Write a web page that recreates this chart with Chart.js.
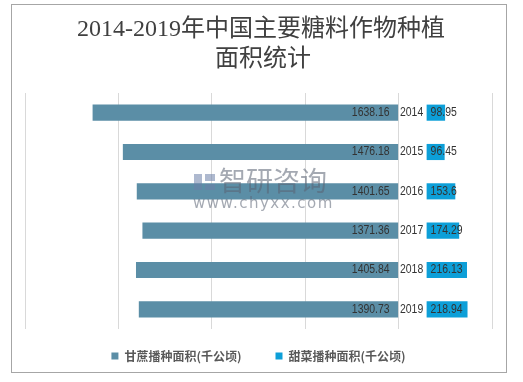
<!DOCTYPE html>
<html><head><meta charset="utf-8">
<script src="https://cdn.jsdelivr.net/npm/chart.js@4"></script>
<style>html,body{margin:0;padding:0;background:#fff}#wrap{width:523px;height:382px;position:relative}</style>
</head><body><div id="wrap"><canvas id="c" width="523" height="382"></canvas></div>
<script>
const years = ['2014','2015','2016','2017','2018','2019'];
const caneArea = [1638.16,1476.18,1401.65,1371.36,1405.84,1390.73];
const beetArea = [98.95,96.45,153.6,174.29,216.13,218.94];
const caneLabel = '甘蔗播种面积(千公顷)';
const beetLabel = '甜菜播种面积(千公顷)';
const titleLines = ['2014-2019年中国主要糖料作物种植','面积统计'];
const GAP = 150;

const extras = {
  id:'extras',
  beforeDraw(chart){
    const c=chart.ctx;
    c.save();
    c.fillStyle='#fff';c.fillRect(0,0,chart.width,chart.height);
    c.strokeStyle='#a6a6a6';c.lineWidth=1;
    c.strokeRect(11.5,4.5,495,368);
    c.fillStyle='#404040';
    c.font='24px "Liberation Serif","Noto Sans CJK SC",serif';
    c.textAlign='center';c.textBaseline='middle';
    c.fillText(titleLines[0],261,30);
    c.fillText(titleLines[1],263,60);
    c.restore();
  },
  afterDatasetsDraw(chart){
    const c=chart.ctx, x=chart.scales.x;
    const m0=chart.getDatasetMeta(0), m1=chart.getDatasetMeta(1);
    c.save();
    c.font='12px "Liberation Sans",sans-serif';
    c.fillStyle='#333';c.textBaseline='middle';
    const put=(t,px,py,al)=>{c.textAlign=al;c.fillText(t,px,py,c.measureText(t).width*0.87);};
    years.forEach((y,i)=>{
      const yy=m0.data[i].y;
      put(String(caneArea[i]),x.getPixelForValue(0)-9,yy,'right');
      put(y,x.getPixelForValue(GAP/2)-1,yy,'center');
      put(String(beetArea[i]),x.getPixelForValue(GAP)+4,m1.data[i].y,'left');
    });
    // watermark
    c.globalAlpha=0.55;
    c.fillStyle='#5a6272';
    c.font='27px "Noto Sans CJK SC",sans-serif';
    c.textAlign='left';
    c.fillText('智研咨询',219,181);
    c.font='15px "DejaVu Sans",sans-serif';
    c.letterSpacing='1.5px';
    c.fillText('www.chyxx.com',193,204);
    c.letterSpacing='0px';
    c.fillStyle='#6b7fa8';
    c.fillRect(194,174,8,16);c.fillRect(205,174,10,7);c.fillRect(205,184,10,6);
    c.restore();
  }
};

new Chart(document.getElementById('c'),{
  type:'bar',
  data:{labels:years,datasets:[
    {label:caneLabel,data:caneArea.map(v=>[-v,0]),backgroundColor:'#5b8ea6',grouped:false,barPercentage:0.41,categoryPercentage:1},
    {label:beetLabel,data:beetArea.map(v=>[GAP,GAP+v]),backgroundColor:'#0d9fd8',grouped:false,barPercentage:0.41,categoryPercentage:1}
  ]},
  options:{
    indexAxis:'y',responsive:false,animation:false,
    layout:{padding:{left:25,right:31,top:93,bottom:10}},
    scales:{
      x:{type:'linear',min:-2000,max:500,ticks:{display:false,stepSize:500},grid:{color:'#d9d9d9',drawTicks:false},border:{display:false},afterFit(s){s.height=11;}},
      y:{display:false}
    },
    plugins:{
      title:{display:false},tooltip:{enabled:false},
      legend:{position:'bottom',labels:{boxWidth:7,boxHeight:7,padding:10,color:'#595959',font:{size:12,family:'"Noto Sans CJK SC",sans-serif',weight:'bold'},generateLabels(chart){return chart.data.datasets.map((d,i)=>({text:i===0?d.label+'\u2003\u2003':d.label,fillStyle:d.backgroundColor,strokeStyle:d.backgroundColor,lineWidth:0,datasetIndex:i,fontColor:'#595959'}));}}}
    }
  },
  plugins:[extras]
});
</script></body></html>
